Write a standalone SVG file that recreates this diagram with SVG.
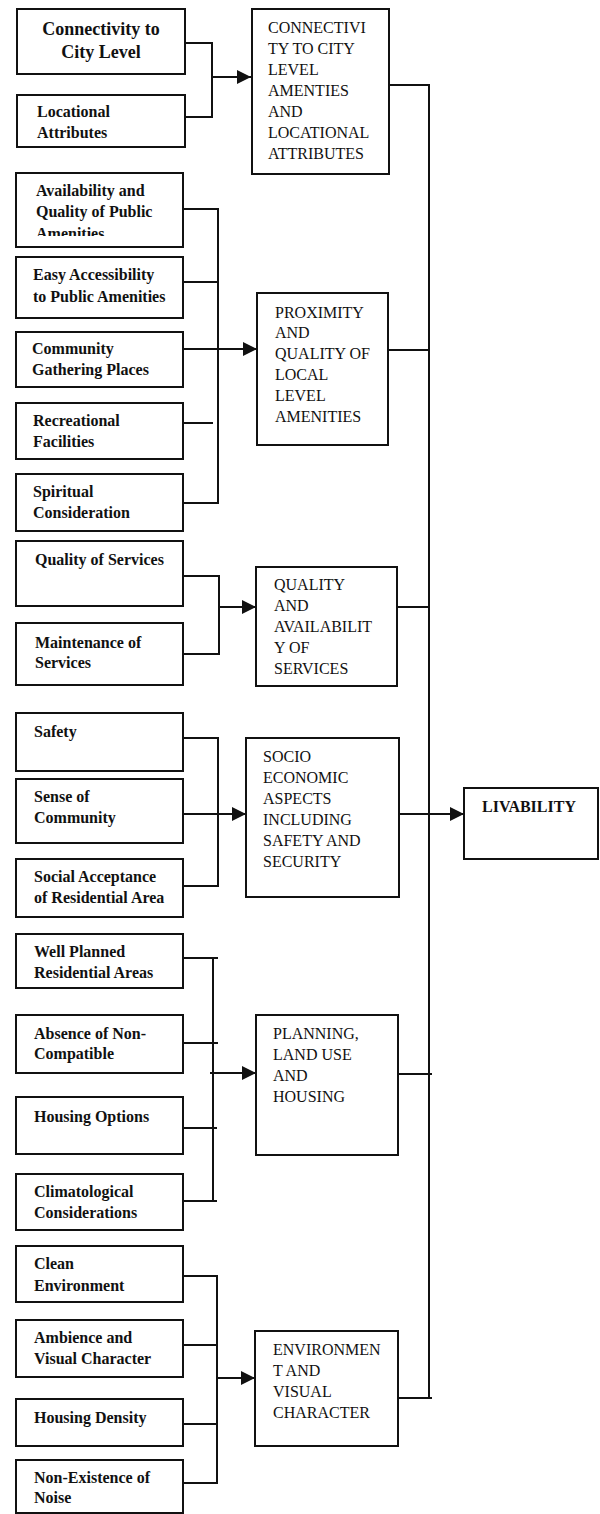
<svg xmlns="http://www.w3.org/2000/svg" width="600" height="1514" viewBox="0 0 600 1514">
<style>
.box{fill:#fff;stroke:#111;stroke-width:2}
.lt{font-family:"Liberation Serif","Times New Roman",serif;font-weight:bold;font-size:16px;fill:#111}
.mt{font-family:"Liberation Serif","Times New Roman",serif;font-size:16px;fill:#111}
.big{font-family:"Liberation Serif","Times New Roman",serif;font-weight:bold;font-size:18px;fill:#111;text-anchor:middle}
.liv{font-family:"Liberation Serif","Times New Roman",serif;font-weight:bold;font-size:16px;fill:#111}
.ln{fill:none;stroke:#111;stroke-width:2}
.ar{fill:none;stroke:#111;stroke-width:2;marker-end:url(#ah)}
</style>
<defs>
<marker id="ah" markerUnits="userSpaceOnUse" markerWidth="14" markerHeight="14" viewBox="0 0 14 14" refX="14" refY="7" orient="auto">
<path d="M0,0 L14,7 L0,14 Z" fill="#111"/>
</marker>
<clipPath id="c3"><rect x="16" y="173" width="167" height="63"/></clipPath>
<clipPath id="c2"><rect x="16" y="95" width="167" height="44"/></clipPath>
</defs>
<rect width="600" height="1514" fill="#fff"/>

<g id="connectors">
<path class="ln" d="M185,43 H212 V117 H185"/>
<path class="ar" d="M212,77 H251"/>
<path class="ln" d="M183,209 H218 V503 H183"/>
<path class="ln" d="M183,282 H218"/>
<path class="ln" d="M183,423 H213"/>
<path class="ar" d="M183,349 H257"/>
<path class="ln" d="M183,576 H219 V654 H183"/>
<path class="ar" d="M219,607 H256"/>
<path class="ln" d="M183,738 H218 V886 H183"/>
<path class="ar" d="M183,814 H246"/>
<path class="ln" d="M179,958 H218 M213,958 V1201 M183,1043 H218 M183,1128 H217 M183,1201 H217"/>
<path class="ar" d="M210,1073 H256"/>
<path class="ln" d="M183,1276 H217 V1483 H183 M183,1345 H217 M183,1424 H217"/>
<path class="ar" d="M217,1378 H255"/>
<path class="ln" d="M389,85 H429 V1398 H393 M388,350 H429 M397,607 H429 M398,1074 H432 M429,1398 H432"/>
<path class="ar" d="M399,814 H464"/>
</g>

<g id="n1"><rect class="box" x="17" y="9" width="168" height="65"/><text class="big" x="101" y="35">Connectivity to</text><text class="big" x="101" y="58">City Level</text></g>
<g id="n2"><rect class="box" x="17" y="95" width="168" height="52"/><g clip-path="url(#c2)"><text class="lt" x="37" y="117">Locational</text><text class="lt" x="37" y="138">Attributes</text></g></g>
<g id="n3"><rect class="box" x="16" y="173" width="167" height="74"/><g clip-path="url(#c3)"><text class="lt" x="36" y="196">Availability and</text><text class="lt" x="36" y="217">Quality of Public</text><text class="lt" x="36" y="239">Amenities</text></g></g>
<g id="n4"><rect class="box" x="16" y="257" width="167" height="61"/><text class="lt" x="33" y="280">Easy Accessibility</text><text class="lt" x="33" y="302">to Public Amenities</text></g>
<g id="n5"><rect class="box" x="16" y="332" width="167" height="55"/><text class="lt" x="32" y="354">Community</text><text class="lt" x="32" y="375">Gathering Places</text></g>
<g id="n6"><rect class="box" x="16" y="403" width="167" height="56"/><text class="lt" x="33" y="426">Recreational</text><text class="lt" x="33" y="447">Facilities</text></g>
<g id="n7"><rect class="box" x="16" y="474" width="167" height="57"/><text class="lt" x="33" y="497">Spiritual</text><text class="lt" x="33" y="518">Consideration</text></g>
<g id="n8"><rect class="box" x="16" y="541" width="167" height="65"/><text class="lt" x="35" y="565">Quality of Services</text></g>
<g id="n9"><rect class="box" x="16" y="623" width="167" height="62"/><text class="lt" x="35" y="648">Maintenance of</text><text class="lt" x="35" y="668">Services</text></g>
<g id="n10"><rect class="box" x="16" y="713" width="167" height="58"/><text class="lt" x="34" y="737">Safety</text></g>
<g id="n11"><rect class="box" x="16" y="779" width="167" height="64"/><text class="lt" x="34" y="802">Sense of</text><text class="lt" x="34" y="823">Community</text></g>
<g id="n12"><rect class="box" x="16" y="859" width="167" height="58"/><text class="lt" x="34" y="882">Social Acceptance</text><text class="lt" x="34" y="903">of Residential Area</text></g>
<g id="n13"><rect class="box" x="16" y="934" width="167" height="54"/><text class="lt" x="34" y="957">Well Planned</text><text class="lt" x="34" y="978">Residential Areas</text></g>
<g id="n14"><rect class="box" x="16" y="1015" width="167" height="58"/><text class="lt" x="34" y="1039">Absence of Non-</text><text class="lt" x="34" y="1059">Compatible</text></g>
<g id="n15"><rect class="box" x="16" y="1097" width="167" height="57"/><text class="lt" x="34" y="1122">Housing Options</text></g>
<g id="n16"><rect class="box" x="16" y="1174" width="167" height="56"/><text class="lt" x="34" y="1197">Climatological</text><text class="lt" x="34" y="1218">Considerations</text></g>
<g id="n17"><rect class="box" x="16" y="1246" width="167" height="56"/><text class="lt" x="34" y="1269">Clean</text><text class="lt" x="34" y="1291">Environment</text></g>
<g id="n18"><rect class="box" x="16" y="1320" width="167" height="57"/><text class="lt" x="34" y="1343">Ambience and</text><text class="lt" x="34" y="1364">Visual Character</text></g>
<g id="n19"><rect class="box" x="16" y="1399" width="167" height="47"/><text class="lt" x="34" y="1423">Housing Density</text></g>
<g id="n20"><rect class="box" x="16" y="1460" width="167" height="53"/><text class="lt" x="34" y="1483">Non-Existence of</text><text class="lt" x="34" y="1503">Noise</text></g>

<g id="m1"><rect class="box" x="252" y="9" width="137" height="165"/><text class="mt" x="268" y="33">CONNECTIVI</text><text class="mt" x="268" y="54">TY TO CITY</text><text class="mt" x="268" y="75">LEVEL</text><text class="mt" x="268" y="96">AMENTIES</text><text class="mt" x="268" y="117">AND</text><text class="mt" x="268" y="138">LOCATIONAL</text><text class="mt" x="268" y="159">ATTRIBUTES</text></g>
<g id="m2"><rect class="box" x="257" y="293" width="131" height="152"/><text class="mt" x="275" y="318">PROXIMITY</text><text class="mt" x="275" y="338">AND</text><text class="mt" x="275" y="359">QUALITY OF</text><text class="mt" x="275" y="380">LOCAL</text><text class="mt" x="275" y="401">LEVEL</text><text class="mt" x="275" y="422">AMENITIES</text></g>
<g id="m3"><rect class="box" x="256" y="567" width="141" height="119"/><text class="mt" x="274" y="590">QUALITY</text><text class="mt" x="274" y="611">AND</text><text class="mt" x="274" y="632">AVAILABILIT</text><text class="mt" x="274" y="653">Y OF</text><text class="mt" x="274" y="674">SERVICES</text></g>
<g id="m4"><rect class="box" x="246" y="738" width="153" height="159"/><text class="mt" x="263" y="762">SOCIO</text><text class="mt" x="263" y="783">ECONOMIC</text><text class="mt" x="263" y="804">ASPECTS</text><text class="mt" x="263" y="825">INCLUDING</text><text class="mt" x="263" y="846">SAFETY AND</text><text class="mt" x="263" y="867">SECURITY</text></g>
<g id="m5"><rect class="box" x="256" y="1015" width="142" height="140"/><text class="mt" x="273" y="1039">PLANNING,</text><text class="mt" x="273" y="1060">LAND USE</text><text class="mt" x="273" y="1081">AND</text><text class="mt" x="273" y="1102">HOUSING</text></g>
<g id="m6"><rect class="box" x="255" y="1331" width="143" height="115"/><text class="mt" x="273" y="1355">ENVIRONMEN</text><text class="mt" x="273" y="1376">T AND</text><text class="mt" x="273" y="1397">VISUAL</text><text class="mt" x="273" y="1418">CHARACTER</text></g>
<g id="liv"><rect class="box" x="464" y="788" width="134" height="71"/><text class="liv" x="482" y="812">LIVABILITY</text></g>
</svg>
